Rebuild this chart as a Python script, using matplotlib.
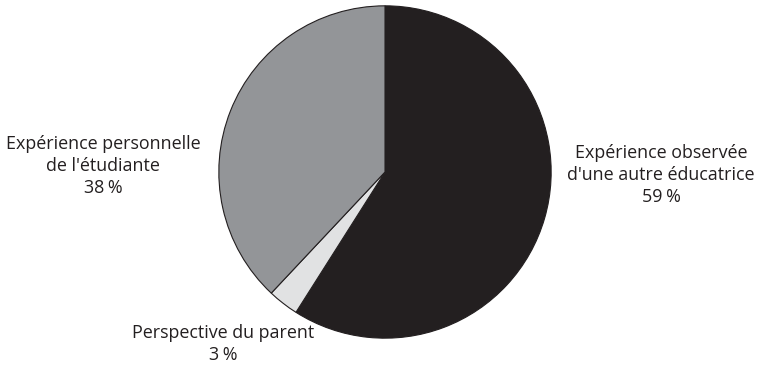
import matplotlib.pyplot as plt

labels = ["Expérience observée\nd'une autre éducatrice",
          "Perspective du parent",
          "Expérience personnelle\nde l'étudiante"]
values = [59, 3, 38]
colors = ["#231f20", "#e1e2e3", "#939598"]

fig = plt.figure(figsize=(7.72, 3.73), dpi=100)
ax = fig.add_axes([218 / 772, 34 / 373, 334 / 772, 334 / 373])

ax.pie(values, colors=colors, startangle=90, counterclock=False,
       wedgeprops={"edgecolor": "#231f20", "linewidth": 0.8})
ax.set_xlim(-1.005, 1.005)
ax.set_ylim(-1.005, 1.005)
ax.set_aspect("equal")
ax.axis("off")

# label positions (pixel centres in the reference)
label_pos = [(661, 175), (223, 344), (103, 166)]

for lab, val, (px, py) in zip(labels, values, label_pos):
    fig.text(px / 772, 1 - py / 373, f"{lab}\n{val}\u202f%",
             ha="center", va="center", fontsize=12.9, color="#231f20",
             linespacing=1.32, family=["Open Sans", "DejaVu Sans"])

fig.savefig("out.png", dpi=100, facecolor="white")
